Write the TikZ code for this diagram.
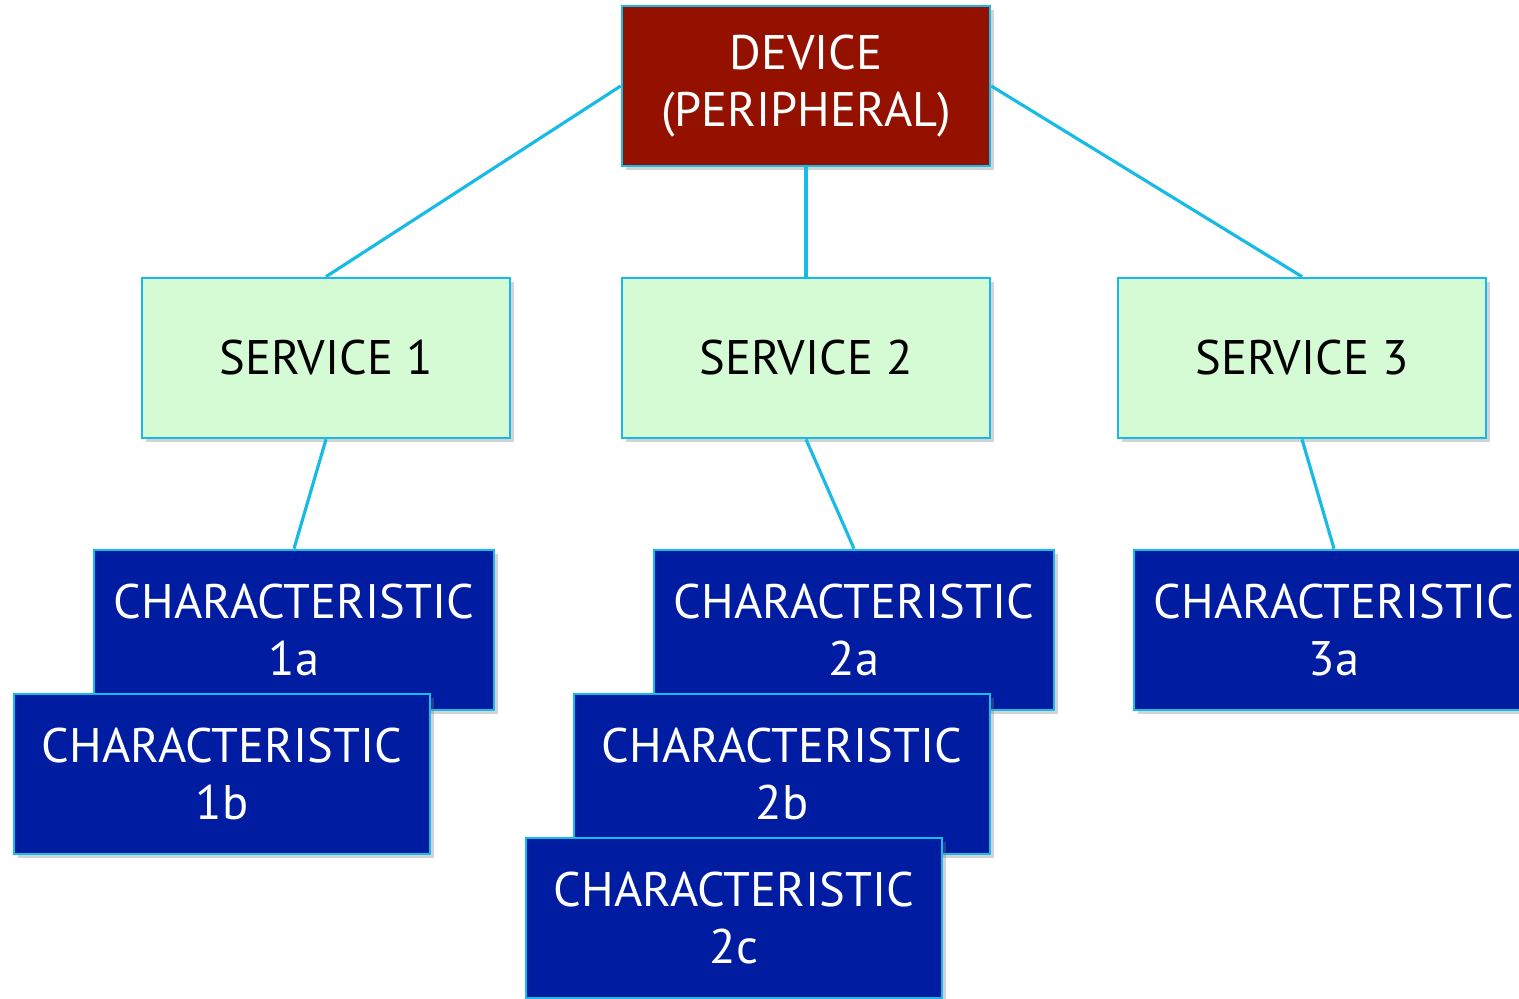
\documentclass[tikz,border=0pt]{standalone}
\usepackage{fontspec}
\setmainfont{PT Sans}
\usetikzlibrary{shadows}

\definecolor{devred}{RGB}{148,17,0}
\definecolor{svcgreen}{RGB}{213,251,213}
\definecolor{charblue}{RGB}{0,28,160}
\definecolor{linkcyan}{RGB}{24,186,230}

\begin{document}
\begin{tikzpicture}[
    every node/.style = {shape = rectangle, draw = linkcyan, line width = 0.75pt,
        minimum height = 1.6cm, align = center, inner sep = 0pt,
        font = \fontsize{13.8pt}{16.2pt}\selectfont,
        drop shadow = {opacity = 0.35, shadow xshift = 1.2pt, shadow yshift = -1.2pt}},
    devbox/.style = {fill = devred, text = white, minimum width = 3.68cm},
    svcbox/.style = {fill = svcgreen, text = black, minimum width = 3.68cm},
    charbox/.style = {fill = charblue, text = white, minimum width = 4cm},
    widebox/.style = {charbox, minimum width = 4.16cm},
    link/.style = {draw = linkcyan, line width = 0.9pt}]
    \clip (0,0) rectangle (15.19,9.98);

    % device and services
    \node[devbox] (dev) at (8.06,9.12) {DEVICE\\(PERIPHERAL)};
    \node[svcbox] (svc1) at (3.26,6.40) {SERVICE 1};
    \node[svcbox] (svc2) at (8.06,6.40) {SERVICE 2};
    \node[svcbox] (svc3) at (13.02,6.40) {SERVICE 3};

    % characteristics
    \node[charbox] (c1a) at (2.94,3.68) {CHARACTERISTIC\\1a};
    \node[widebox] (c1b) at (2.22,2.24) {CHARACTERISTIC\\1b};
    \node[charbox] (c2a) at (8.54,3.68) {CHARACTERISTIC\\2a};
    \node[widebox] (c2b) at (7.82,2.24) {CHARACTERISTIC\\2b};
    \node[widebox] (c2c) at (7.34,0.80) {CHARACTERISTIC\\2c};
    \node[charbox] (c3a) at (13.34,3.68) {CHARACTERISTIC\\3a};

    \draw[link] (dev.west) -- (svc1.north);
    \draw[link] (dev.south) -- (svc2.north);
    \draw[link] (dev.east) -- (svc3.north);
    \draw[link] (svc1.south) -- (c1a.north);
    \draw[link] (svc2.south) -- (c2a.north);
    \draw[link] (svc3.south) -- (c3a.north);
\end{tikzpicture}
\end{document}
